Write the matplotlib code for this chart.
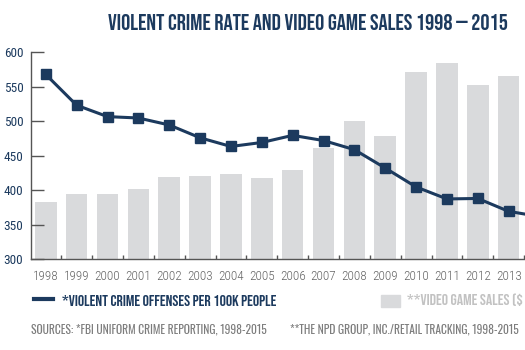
import numpy as np
import matplotlib
matplotlib.use('Agg')
import matplotlib.pyplot as plt
from matplotlib.lines import Line2D
from matplotlib.patches import Rectangle

plt.rcParams['font.family'] = ['Roboto Condensed', 'DejaVu Sans']
head_font = ['Bebas Neue', 'DejaVu Sans']
thin_font = ['Oswald', 'DejaVu Sans']

years = [1998, 1999, 2000, 2001, 2002, 2003, 2004, 2005, 2006, 2007,
         2008, 2009, 2010, 2011, 2012, 2013, 2014]
# violent crime offenses per 100k people
crime = [567.6, 523.0, 506.5, 504.5, 494.4, 475.8, 463.2, 469.0, 479.3, 471.8,
         458.6, 431.9, 404.5, 387.1, 387.8, 369.1, 361.6]
sales = [382, 394, 394, 402, 419, 420, 424, 418, 429, 461,
         500, 479, 571, 584, 553, 565, 560]
yticks = [300, 350, 400, 450, 500, 550, 600]

navy = '#1c3a5e'
bar_grey = '#d9dadc'
txt_grey = '#7d7d7d'
axis_grey = '#555555'

fig = plt.figure(figsize=(5.25, 3.5), dpi=100, facecolor='w')
ax = fig.add_axes([0.059, 0.26, 0.941, 0.591])

ax.bar(years, np.array(sales) - 300, bottom=300, width=0.7, color=bar_grey, zorder=1)
ax.plot(years, crime, color=navy, lw=2.2, marker='s', ms=6.5, zorder=3)

for s in ['top', 'right']:
    ax.spines[s].set_visible(False)
for s in ['left', 'bottom']:
    ax.spines[s].set_color(axis_grey)
    ax.spines[s].set_linewidth(1.0)

ax.set_yticks(yticks)
ax.tick_params(axis='y', direction='in', length=9.5, width=1.0, color=axis_grey,
               labelcolor=navy, labelsize=9.5, pad=5.5)
ax.set_xticks(years)
ax.set_xticklabels([str(y) for y in years])
ax.tick_params(axis='x', which='major', length=0, labelcolor='#666666', labelsize=9.5, pad=8)
ax.set_xticks(np.array(years) + 0.5, minor=True)
ax.tick_params(axis='x', which='minor', direction='in', length=3, width=1.0, color=axis_grey)
for lab in ax.get_xticklabels():
    lab.set_fontweight('light')

ax.set_xlim(1997.52, 2013.53)
ax.set_ylim(300, 600)

fig.text(0.968, 1 - 22 / 350, 'VIOLENT CRIME RATE AND VIDEO GAME SALES 1998 \u2014 2015',
         ha='right', va='center', color=navy, fontsize=16.5, family=head_font)

# legend row
fig.add_artist(Line2D([34 / 525, 53 / 525], [1 - 299 / 350] * 2, color=navy, lw=3))
fig.text(62 / 525, 1 - 300 / 350, '*VIOLENT CRIME OFFENSES PER 100K PEOPLE',
         ha='left', va='center', color=navy, fontsize=11.4, family=head_font)
fig.add_artist(Rectangle((381 / 525, 1 - 307 / 350), 19 / 525, 12 / 350,
                         color=bar_grey, transform=fig.transFigure))
fig.text(407 / 525, 1 - 300 / 350, '**VIDEO GAME SALES ($ BILLIONS)',
         ha='left', va='center', color='#c2c2c2', fontsize=11.4, family=head_font)

# sources
fig.text(31 / 525, 1 - 329 / 350, 'SOURCES: *FBI UNIFORM CRIME REPORTING, 1998-2015',
         ha='left', va='center', color=txt_grey, fontsize=8.3, family=thin_font, fontweight='light')
fig.text(290 / 525, 1 - 329 / 350, '**THE NPD GROUP, INC./RETAIL TRACKING, 1998-2015',
         ha='left', va='center', color=txt_grey, fontsize=8.3, family=thin_font, fontweight='light')

fig.savefig('out.png', dpi=100)
